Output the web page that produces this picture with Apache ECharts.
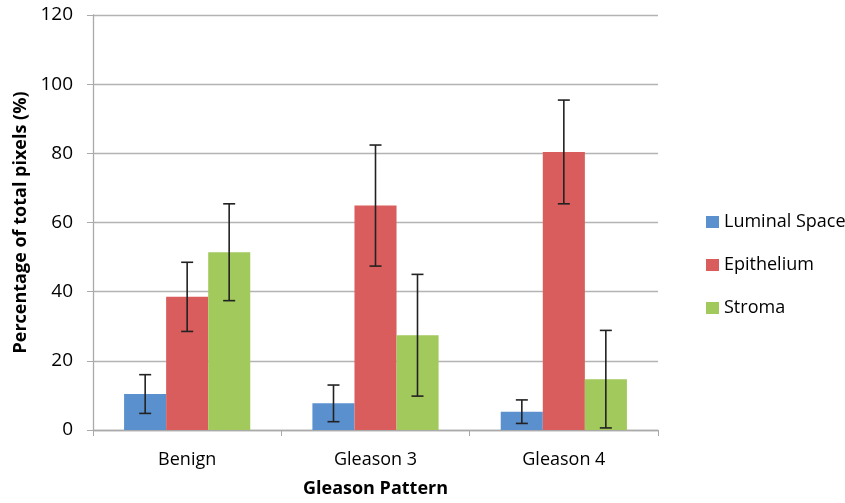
<!DOCTYPE html>
<html><head><meta charset="utf-8">
<script src="https://cdn.jsdelivr.net/npm/echarts@6/dist/echarts.min.js"></script>
<style>html,body{margin:0;padding:0;background:#fff}#c{width:845px;height:503px}</style>
</head><body><div id="c"></div>
<script>
const categories = ['Benign', 'Gleason 3', 'Gleason 4'];
const seriesNames = ['Luminal Space', 'Epithelium', 'Stroma'];
const luminal = [10.4, 7.7, 5.3];
const epithelium = [38.5, 64.9, 80.4];
const stroma = [51.4, 27.4, 14.7];
const luminalErr = [5.6, 5.3, 3.4];
const epitheliumErr = [10.0, 17.5, 15.0];
const stromaErr = [14.0, 17.6, 14.1];
const yTicks = [0, 20, 40, 60, 80, 100, 120];

const colors = ['#5b90cf', '#d95d5d', '#a2c95b'];
const values = [luminal, epithelium, stroma];
const errs = [luminalErr, epitheliumErr, stromaErr];
const font = '"Open Sans", sans-serif';
const barFrac = 0.223;

const chart = echarts.init(document.getElementById('c'));
const series = [];
values.forEach((v, i) => {
  series.push({
    name: seriesNames[i], type: 'bar', data: v,
    barGap: '0%', barCategoryGap: '33%',
    itemStyle: { color: colors[i] }, z: 2
  });
});
values.forEach((v, i) => {
  series.push({
    type: 'custom', z: 5, silent: true,
    data: v.map((val, j) => [j, val - errs[i][j], val + errs[i][j]]),
    renderItem: function (params, api) {
      const band = api.size([1, 0])[0];
      const off = (i - 1) * band * barFrac;
      const lo = api.coord([api.value(0), api.value(1)]);
      const hi = api.coord([api.value(0), api.value(2)]);
      const x = lo[0] + off;
      const cw = 6;
      const style = { stroke: '#222', lineWidth: 1.6, fill: null };
      return { type: 'group', children: [
        { type: 'line', shape: { x1: x, y1: lo[1], x2: x, y2: hi[1] }, style },
        { type: 'line', shape: { x1: x - cw, y1: lo[1], x2: x + cw, y2: lo[1] }, style },
        { type: 'line', shape: { x1: x - cw, y1: hi[1], x2: x + cw, y2: hi[1] }, style }
      ]};
    }
  });
});

chart.setOption({
  animation: false,
  textStyle: { fontFamily: font },
  grid: { left: 93, right: 187, top: 15, bottom: 71, containLabel: false },
  legend: {
    data: seriesNames, orient: 'vertical', left: 701, top: 208,
    itemWidth: 13, itemHeight: 12, itemGap: 25, icon: 'rect',
    textStyle: { fontSize: 18, color: '#000', fontFamily: font }
  },
  xAxis: {
    type: 'category', data: categories,
    name: 'Gleason Pattern', nameLocation: 'middle', nameGap: 50,
    nameTextStyle: { fontSize: 18, fontWeight: 'bold', color: '#000', fontFamily: font },
    axisLine: { lineStyle: { color: '#aaa', width: 1.3 } },
    axisTick: { show: true, length: 6, lineStyle: { color: '#aaa' } },
    axisLabel: { fontSize: 18, color: '#000', margin: 21, fontFamily: font }
  },
  yAxis: {
    type: 'value', min: yTicks[0], max: yTicks[yTicks.length - 1], interval: 20,
    name: 'Percentage of total pixels (%)', nameLocation: 'middle', nameGap: 63,
    nameTextStyle: { fontSize: 18, fontWeight: 'bold', color: '#000', fontFamily: font },
    axisLine: { show: true, lineStyle: { color: '#aaa', width: 1.3 } },
    axisTick: { show: true, length: 6, lineStyle: { color: '#aaa' } },
    axisLabel: { fontSize: 19, color: '#000', margin: 20, fontFamily: font },
    splitLine: { lineStyle: { color: '#b3b3b3', width: 1.3 } }
  },
  series
});
</script></body></html>
